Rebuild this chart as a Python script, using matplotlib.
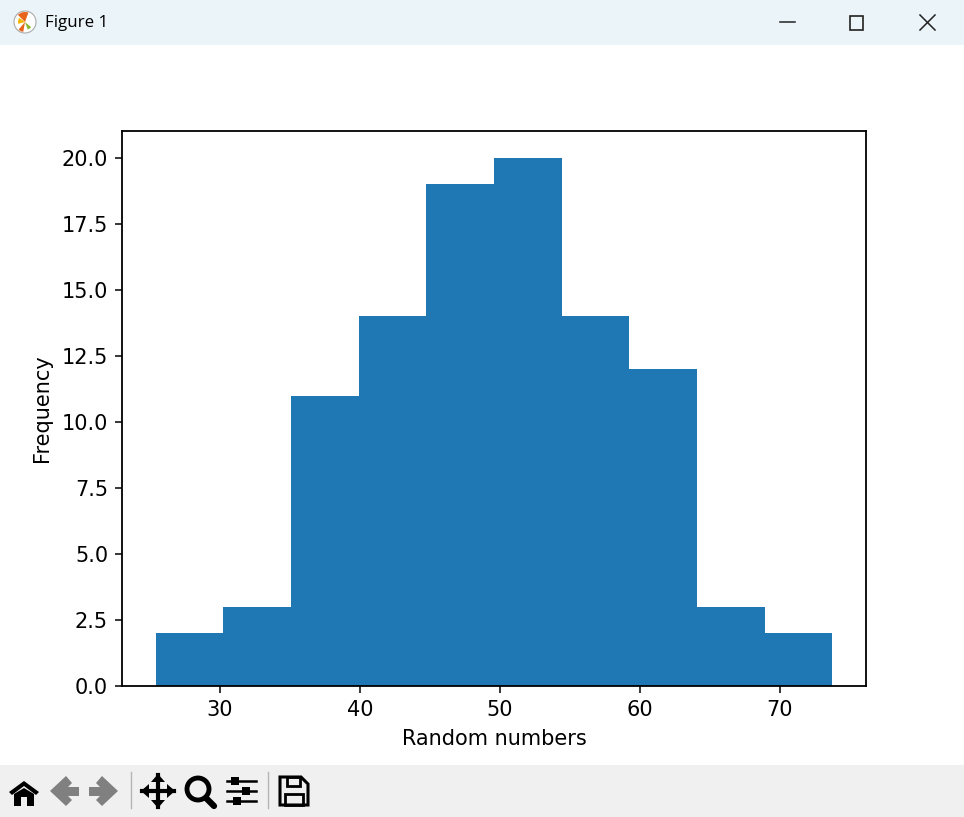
import matplotlib
matplotlib.use('Agg')
import matplotlib.pyplot as plt
from matplotlib.patches import Rectangle, Polygon, Circle, Wedge

# histogram
bin_edges = [25.45, 30.22, 35.06, 39.92, 44.72, 49.56, 54.43, 59.24, 64.06, 68.92, 73.75]
counts = [2, 3, 11, 14, 19, 20, 14, 12, 3, 2]
x_ticks = [30, 40, 50, 60, 70]
y_ticks = [0.0, 2.5, 5.0, 7.5, 10.0, 12.5, 15.0, 17.5, 20.0]
x_label = 'Random numbers'
y_label = 'Frequency'
window_title = 'Figure 1'

W, H = 964, 817
fig = plt.figure(figsize=(W / 100, H / 100), dpi=100, facecolor='white')

# window frame, drawn in pixel coordinates
chrome = fig.add_axes([0, 0, 1, 1])
chrome.set_xlim(0, W)
chrome.set_ylim(H, 0)
chrome.axis('off')
chrome.add_patch(Rectangle((0, 0), W, 45, color='#ebf4f8', lw=0))
chrome.add_patch(Rectangle((0, 765), W, 52, color='#f0f0f0', lw=0))

# title bar
chrome.add_patch(Circle((25, 22), 11, fc='white', ec='#aaaaaa', lw=0.8))
chrome.add_patch(Wedge((25, 22), 10, 225, 290, color='#e8641b', lw=0))
chrome.add_patch(Wedge((25, 22), 10, 100, 130, color='#e8641b', lw=0))
chrome.add_patch(Wedge((25, 22), 7, 165, 215, color='#f2b705', lw=0))
chrome.add_patch(Wedge((25, 22), 8, 40, 70, color='#8ab833', lw=0))
chrome.text(45, 23, window_title, fontsize=12.2, family='Open Sans', va='center', ha='left', color='black')
chrome.plot([780, 795], [22, 22], color='#222222', lw=1.1)
chrome.add_patch(Rectangle((850, 16), 13, 14, fc='none', ec='#222222', lw=1.2))
chrome.plot([920, 935], [15, 30], color='#222222', lw=1.1)
chrome.plot([920, 935], [30, 15], color='#222222', lw=1.1)

# toolbar: home
chrome.add_patch(Polygon([(9, 792), (24, 781), (39, 792), (36, 795), (24, 786), (12, 795)], color='black', lw=0))
chrome.add_patch(Polygon([(14, 794), (24, 788), (34, 794), (34, 806), (27, 806), (27, 797), (21, 797), (21, 806), (14, 806)], color='black', lw=0))
# back / forward (greyed out)
chrome.add_patch(Polygon([(50, 791), (66, 776), (72, 783), (68, 787), (79, 787), (79, 796), (68, 796), (72, 800), (66, 806)], color='#808080', lw=0))
chrome.add_patch(Polygon([(118, 791), (102, 776), (96, 783), (100, 787), (89, 787), (89, 796), (100, 796), (96, 800), (102, 806)], color='#808080', lw=0))
chrome.plot([130.5, 130.5], [772, 808], color='#b5b5b5', lw=1)
# pan
chrome.plot([142, 174], [791, 791], color='black', lw=3)
chrome.plot([158, 158], [775, 807], color='black', lw=3)
for pts in ([(141, 791), (149, 784), (149, 798)], [(175, 791), (167, 784), (167, 798)],
            [(158, 774), (151, 782), (165, 782)], [(158, 808), (151, 800), (165, 800)]):
    chrome.add_patch(Polygon(pts, color='black', lw=0))
# zoom
chrome.add_patch(Circle((198, 789), 11, fc='none', ec='black', lw=3.5))
chrome.plot([206, 214], [798, 806], color='black', lw=4.5, solid_capstyle='round')
# settings
for yy, xx in zip([781, 791, 801], [235, 246, 237]):
    chrome.plot([227, 256], [yy, yy], color='black', lw=1.8)
    chrome.add_patch(Rectangle((xx - 4, yy - 4), 8, 8, color='black', lw=0))
chrome.plot([267.5, 267.5], [772, 808], color='#b5b5b5', lw=1)
# save
chrome.add_patch(Polygon([(280, 777), (301, 777), (308, 784), (308, 805), (280, 805)], fc='none', ec='black', lw=2.2))
chrome.add_patch(Rectangle((287, 777), 13, 9, fc='none', ec='black', lw=2))
chrome.add_patch(Rectangle((285, 794), 18, 11, fc='none', ec='black', lw=2))

# the chart itself
ax = fig.add_axes([122 / W, 1 - 686 / H, (866 - 122) / W, (686 - 131) / H], facecolor='none')
widths = [b - a for a, b in zip(bin_edges[:-1], bin_edges[1:])]
ax.bar(bin_edges[:-1], counts, width=widths, align='edge', color='#1f77b4', linewidth=0)
ax.set_xlim(23.0, 76.15)
ax.set_ylim(0, 21.02)
ax.set_xticks(x_ticks)
ax.set_yticks(y_ticks)
ax.set_yticklabels([f'{v:.1f}' for v in y_ticks])
ax.tick_params(labelsize=15, length=5, width=1.1, pad=5)
ax.set_xlabel(x_label, fontsize=15, labelpad=6.5)
ax.set_ylabel(y_label, fontsize=15, labelpad=7)
for s in ax.spines.values():
    s.set_linewidth(1.3)

fig.savefig('out.png', dpi=100)
